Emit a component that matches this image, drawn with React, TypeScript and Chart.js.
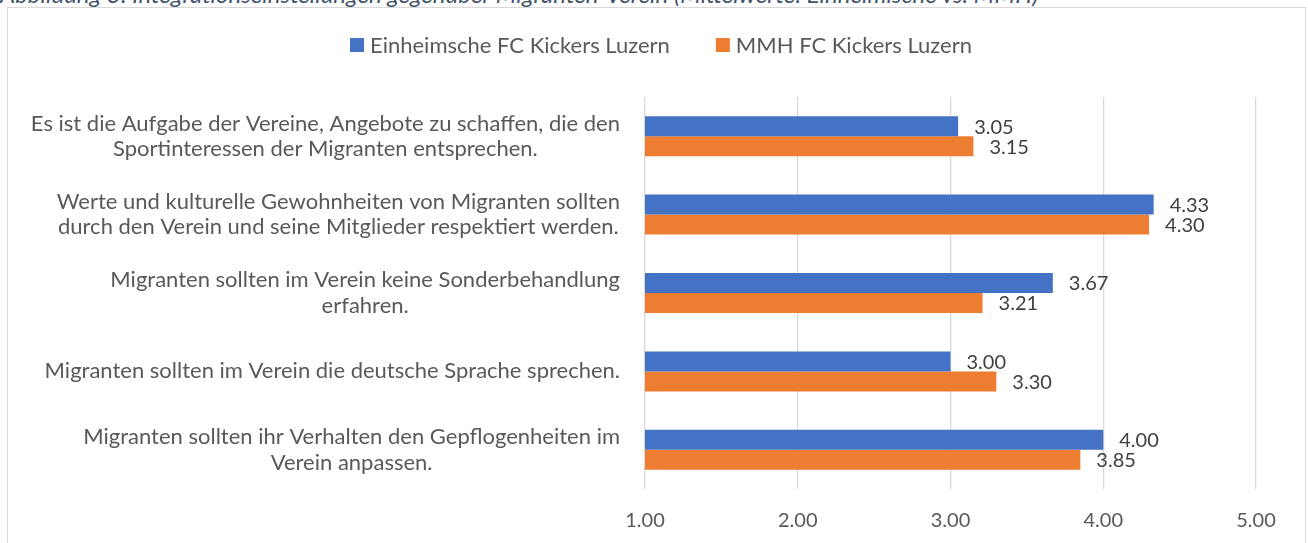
import React, { useEffect, useRef } from "react";
import { Chart, registerables } from "chart.js";

Chart.register(...registerables);

const CATEGORIES: string[][] = [
  ["Es ist die Aufgabe der Vereine, Angebote zu schaffen, die den", "Sportinteressen der Migranten entsprechen."],
  ["Werte und kulturelle Gewohnheiten von Migranten sollten", "durch den Verein und seine Mitglieder respektiert werden."],
  ["Migranten sollten im Verein keine Sonderbehandlung", "erfahren."],
  ["Migranten sollten im Verein die deutsche Sprache sprechen."],
  ["Migranten sollten ihr Verhalten den Gepflogenheiten im", "Verein anpassen."],
];
const SERIES_NAMES = ["Einheimsche FC Kickers Luzern", "MMH FC Kickers Luzern"];
const EINHEIMISCHE = [3.05, 4.33, 3.67, 3.0, 4.0];
const MMH = [3.15, 4.3, 3.21, 3.3, 3.85];
const X_TICKS = [1, 2, 3, 4, 5];
const CAPTION = "Abbildung 3: Integrationseinstellungen gegenüber Migranten-Verein (Mittelwerte: Einheimische vs. MMH)";

const COLORS = ["#4472C4", "#ED7D31"];
const FONT = "Lato";
const FS_TEXT = 22;
const FS_NUM = 20;
const TEXT = "#595959";

const drawPlugin = {
  id: "customDraw",
  afterDraw(chart: any) {
    const { ctx } = chart;
    const yScale = chart.scales.y;
    ctx.save();
    ctx.font = `${FS_TEXT}px ${FONT}`;
    ctx.fillStyle = TEXT;
    ctx.textBaseline = "middle";
    // category labels: block right-aligned, lines centered
    const labelRight = 612;
    const lineH = 25.5;
    CATEGORIES.forEach((lines, i) => {
      const yc = yScale.getPixelForTick(i);
      const w = Math.max(...lines.map((l) => ctx.measureText(l).width));
      const xc = labelRight - w / 2;
      ctx.textAlign = "center";
      lines.forEach((l, j) => {
        ctx.fillText(l, xc, yc + (j - (lines.length - 1) / 2) * lineH);
      });
    });
    // data labels
    ctx.font = `${FS_NUM}px ${FONT}`;
    ctx.textAlign = "left";
    ctx.fillStyle = "#404040";
    chart.data.datasets.forEach((ds: any, di: number) => {
      const meta = chart.getDatasetMeta(di);
      meta.data.forEach((bar: any, i: number) => {
        ctx.fillText(Number(ds.data[i]).toFixed(2), bar.x + 16, bar.y + 1);
      });
    });
    // legend
    ctx.font = `${FS_TEXT}px ${FONT}`;
    ctx.fillStyle = TEXT;
    const box = 14;
    const gap = 6;
    const itemGap = 46;
    const widths = SERIES_NAMES.map((n) => box + gap + ctx.measureText(n).width);
    const total = widths.reduce((a, b) => a + b, 0) + itemGap * (SERIES_NAMES.length - 1);
    let x = 653 - total / 2;
    const ly = 37;
    SERIES_NAMES.forEach((n, i) => {
      ctx.fillStyle = COLORS[i];
      ctx.fillRect(x, ly - box / 2, box, box);
      ctx.fillStyle = TEXT;
      ctx.textAlign = "left";
      ctx.fillText(n, x + box + gap, ly + 1);
      x += widths[i] + itemGap;
    });
    ctx.restore();
  },
};

export default function App() {
  const ref = useRef<HTMLCanvasElement>(null);
  useEffect(() => {
    if (!ref.current) return;
    const chart = new Chart(ref.current, {
      type: "bar",
      data: {
        labels: CATEGORIES.map((c) => c.join(" ")),
        datasets: [
          { label: SERIES_NAMES[0], data: EINHEIMISCHE, backgroundColor: COLORS[0], barPercentage: 1, categoryPercentage: 0.51 },
          { label: SERIES_NAMES[1], data: MMH, backgroundColor: COLORS[1], barPercentage: 1, categoryPercentage: 0.51 },
        ],
      },
      options: {
        indexAxis: "y",
        responsive: false,
        animation: false,
        layout: { padding: { top: 89, right: 49, left: 0, bottom: 0 } },
        plugins: { legend: { display: false }, tooltip: { enabled: false } },
        scales: {
          x: {
            min: 1,
            max: 5,
            afterBuildTicks: (scale: any) => {
              scale.ticks = X_TICKS.map((v) => ({ value: v }));
            },
            ticks: {
              callback: (v: any) => Number(v).toFixed(2),
              color: TEXT,
              font: { family: FONT, size: FS_NUM },
              padding: 20,
            },
            grid: { color: "#d9d9d9", lineWidth: 1.3, drawTicks: false },
            border: { display: false },
            afterFit: (scale: any) => {
              scale.height = 54;
            },
          },
          y: {
            ticks: { display: false },
            grid: { display: false },
            border: { display: false },
            afterFit: (scale: any) => {
              scale.width = 637;
            },
          },
        },
      },
      plugins: [drawPlugin],
    });
    return () => chart.destroy();
  }, []);

  return (
    <div style={{ position: "absolute", left: 0, top: 0, width: 1308, height: 543, overflow: "hidden", background: "#fff" }}>
      <div
        style={{
          position: "absolute",
          left: 0,
          top: -18,
          whiteSpace: "nowrap",
          fontFamily: FONT,
          fontStyle: "italic",
          fontSize: 24,
          lineHeight: "24px",
          color: "#44546A",
        }}
      >
        {CAPTION}
      </div>
      <div
        style={{
          position: "absolute",
          left: 7,
          top: 7,
          width: 1297,
          height: 560,
          border: "1px solid #d9d9d9",
          background: "#fff",
        }}
      >
        <canvas ref={ref} width={1297} height={535} style={{ display: "block" }} />
      </div>
    </div>
  );
}
